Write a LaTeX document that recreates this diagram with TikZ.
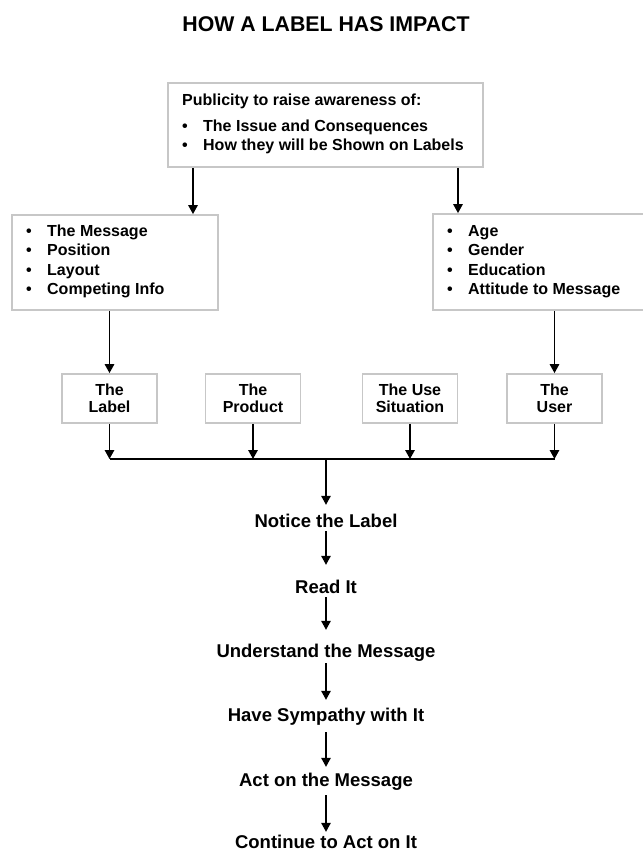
\documentclass[tikz,border=0pt]{standalone}
\usepackage{fontspec}
\setmainfont{Liberation Sans}
\usetikzlibrary{arrows.meta}
\definecolor{boxgray}{gray}{0.78}
\begin{document}
\begin{tikzpicture}[x=1pt,y=-1pt,
  frame/.style={draw=boxgray,line width=1.8pt,inner sep=0pt},
  bigbox/.style={frame},
  smallbox/.style={frame,minimum width=95pt,minimum height=49pt,align=center,
    font=\fontsize{16}{17.5}\selectfont\bfseries},
  entry/.style={anchor=base west,inner sep=0pt,font=\fontsize{16}{18}\selectfont\bfseries},
  stage/.style={anchor=base,inner sep=0pt,text height=13pt,text depth=4pt,
    font=\fontsize{18.5}{20}\selectfont\bfseries},
  arr/.style={line width=1.4pt,-{Triangle[width=9.5pt,length=9pt]}},
  bus/.style={line width=1.8pt}]
\newcommand{\bul}[1]{\makebox[21pt][l]{\textbullet}#1}
\clip (0,0) rectangle (643,852);
\fill[white] (0,0) rectangle (643,852);

% heading
\node[anchor=base,inner sep=0pt,font=\fontsize{21.3}{24}\selectfont\bfseries]
  (title) at (326,31) {HOW A LABEL HAS IMPACT};

% publicity box
\node[bigbox,minimum width=315pt,minimum height=84pt] (pub) at (325.5,125) {};
\node[entry] (pub0) at (182,105) {Publicity to raise awareness of:};
\node[entry] (pub1) at (182,131) {\bul{The Issue and Consequences}};
\node[entry] (pub2) at (182,150) {\bul{How they will be Shown on Labels}};

% label factors
\node[bigbox,minimum width=206pt,minimum height=95pt] (msg) at (115,262.5) {};
\node[entry] (msg1) at (26,236) {\bul{The Message}};
\node[entry] (msg2) at (26,255.5) {\bul{Position}};
\node[entry] (msg3) at (26,275) {\bul{Layout}};
\node[entry] (msg4) at (26,294.5) {\bul{Competing Info}};

% user factors
\node[bigbox,minimum width=227pt,minimum height=96pt] (who) at (546.5,262) {};
\node[entry] (who1) at (447,236) {\bul{Age}};
\node[entry] (who2) at (447,255.5) {\bul{Gender}};
\node[entry] (who3) at (447,275) {\bul{Education}};
\node[entry] (who4) at (447,294.5) {\bul{Attitude to Message}};

% the four influences
\node[smallbox] (lab)  at (109.5,398.5) {The\\Label};
\node[smallbox] (prod) at (253,398.5)   {The\\Product};
\node[smallbox] (sit)  at (410,398.5)   {The Use\\Situation};
\node[smallbox] (usr)  at (554.5,398.5) {The\\User};

% stages
\node[stage] (s1) at (326,527) {Notice the Label};
\node[stage] (s2) at (326,593) {Read It};
\node[stage] (s3) at (326,657) {Understand the Message};
\node[stage] (s4) at (326,721) {Have Sympathy with It};
\node[stage] (s5) at (326,786) {Act on the Message};
\node[stage] (s6) at (326,848) {Continue to Act on It};

% publicity feeds both factor boxes
\coordinate (xl) at (193,0);
\coordinate (xr) at (458,0);
\draw[arr] (pub.south -| xl) -- (msg.north -| xl);
\draw[arr] (pub.south -| xr) -- (who.north -| xr);

% factor boxes feed label and user
\draw[arr] (msg.south -| lab.north) -- (lab.north);
\draw[arr] (who.south -| usr.north) -- (usr.north);

% collecting bus
\coordinate (bl) at (109.5,459);
\coordinate (bp) at (253,459);
\coordinate (bs) at (410,459);
\coordinate (bu) at (554.5,459);
\coordinate (bc) at (326,459);
\draw[bus] (bl) -- (bu);
\draw[arr] (lab.south) -- (bl);
\draw[arr] (prod.south) -- (bp);
\draw[arr] (sit.south) -- (bs);
\draw[arr] (usr.south) -- (bu);
\draw[arr,shorten >=9pt] (bc) -- (s1.north);

% chain of stages
\draw[arr,shorten >=15pt] (s1.south) -- (s2.north);
\draw[arr,shorten >=14pt] (s2.south) -- (s3.north);
\draw[arr,shorten <=2pt,shorten >=8pt] (s3.south) -- (s4.north);
\draw[arr,shorten <=7pt,shorten >=6pt] (s4.south) -- (s5.north);
\draw[arr,shorten <=5pt,shorten >=3pt] (s5.south) -- (s6.north);
\end{tikzpicture}
\end{document}
